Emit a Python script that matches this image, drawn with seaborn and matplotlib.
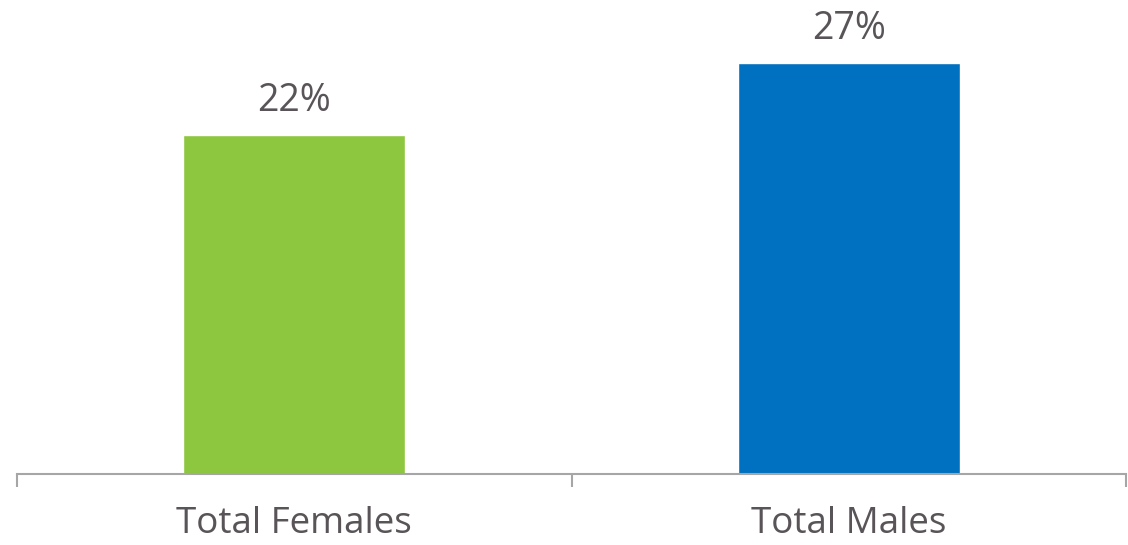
import matplotlib
matplotlib.use("Agg")
import matplotlib.pyplot as plt
import seaborn as sns
import pandas as pd

categories = ["Total Females", "Total Males"]
values = [22.28, 27.0]
value_labels = ["22%", "27%"]
colors = ["#8DC63F", "#0070C0"]

sns.set_style("white")
plt.rcParams["font.family"] = ["Open Sans", "DejaVu Sans"]
text_color = "#595458"

df = pd.DataFrame({"cat": categories, "val": values})

fig = plt.figure(figsize=(11.28, 5.45), dpi=100)
ax = fig.add_axes([17/1128, 1 - 474/545, (1126 - 17)/1128, 474/545])
sns.barplot(data=df, x="cat", y="val", hue="cat", palette=colors, width=0.4,
            legend=False, ax=ax, saturation=1)

ax.set_xlim(-0.5, 1.5)
ax.set_ylim(0, 31.14)
ax.set_xlabel("")
ax.set_ylabel("")
ax.set_yticks([])
for s in ["top", "right", "left"]:
    ax.spines[s].set_visible(False)
ax.spines["bottom"].set_color("#A6A6A6")
ax.spines["bottom"].set_linewidth(1.5)

ax.set_xticks([0, 1])
ax.set_xticklabels(categories, fontsize=26.5, color=text_color)
ax.tick_params(axis="x", which="major", length=0, pad=23, bottom=True)
ax.set_xticks([-0.5, 0.5, 1.5], minor=True)
ax.tick_params(axis="x", which="minor", length=9.5, width=1.5, color="#A6A6A6",
               direction="out", bottom=True)

for i, (v, lab) in enumerate(zip(values, value_labels)):
    ax.annotate(lab, (i, v), xytext=(0, 17.5), textcoords="offset points",
                ha="center", va="baseline", fontsize=27, color=text_color)

fig.savefig("out.png", dpi=100)
